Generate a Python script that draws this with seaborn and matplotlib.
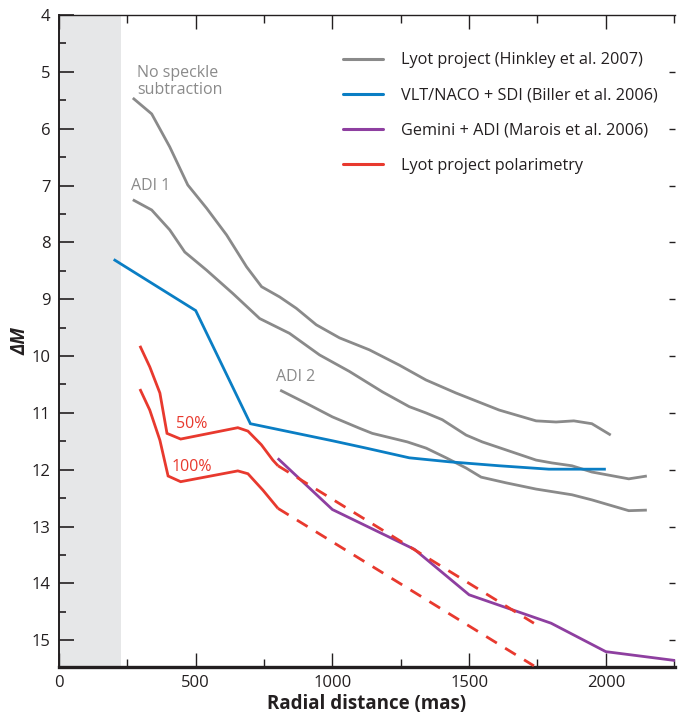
import numpy as np
import pandas as pd
import matplotlib
matplotlib.use("Agg")
import matplotlib.pyplot as plt
from matplotlib.lines import Line2D
import seaborn as sns

# ---------------- data ----------------
nospeckle_x = [270, 339, 405, 471, 540, 613, 686, 741, 807, 868, 941, 1026, 1135, 1245, 1342, 1452, 1610, 1745, 1818, 1883, 1949, 2018]
nospeckle_y = [5.46, 5.74, 6.32, 6.99, 7.40, 7.87, 8.43, 8.78, 8.96, 9.16, 9.45, 9.68, 9.89, 10.16, 10.42, 10.65, 10.95, 11.14, 11.16, 11.14, 11.19, 11.39]

adi1_x = [270, 339, 405, 460, 540, 636, 734, 843, 953, 1062, 1183, 1281, 1342, 1402, 1489, 1548, 1745, 1803, 1876, 1949, 2084, 2150]
adi1_y = [7.25, 7.43, 7.78, 8.17, 8.49, 8.90, 9.34, 9.60, 9.98, 10.27, 10.63, 10.89, 11.00, 11.12, 11.39, 11.51, 11.83, 11.88, 11.93, 12.04, 12.16, 12.11]

adi2_x = [809, 904, 1000, 1099, 1146, 1274, 1343, 1416, 1489, 1544, 1635, 1745, 1876, 1949, 2084, 2150]
adi2_y = [10.60, 10.83, 11.07, 11.27, 11.36, 11.51, 11.62, 11.79, 11.97, 12.13, 12.23, 12.34, 12.44, 12.53, 12.72, 12.71]

naco_x = [200, 500, 700, 880, 1000, 1124, 1281, 1427, 1610, 1792, 2000]
naco_y = [8.30, 9.20, 11.19, 11.37, 11.49, 11.62, 11.79, 11.86, 11.93, 11.99, 11.99]

gemini_x = [800, 1000, 1300, 1500, 1800, 2000, 2260]
gemini_y = [11.80, 12.70, 13.40, 14.20, 14.70, 15.20, 15.36]

pol50_x = [296, 332, 369, 395, 445, 654, 691, 740, 782, 801]
pol50_y = [9.82, 10.19, 10.65, 11.36, 11.46, 11.26, 11.32, 11.56, 11.83, 11.93]
pol50_ext_x = [801, 1737]
pol50_ext_y = [11.93, 14.70]

pol100_x = [296, 332, 369, 399, 445, 654, 691, 746, 801]
pol100_y = [10.58, 10.95, 11.48, 12.11, 12.21, 12.02, 12.07, 12.36, 12.68]
pol100_ext_x = [801, 1737]
pol100_ext_y = [12.68, 15.45]

legend_labels = ["Lyot project (Hinkley et al. 2007)",
                 "VLT/NACO + SDI (Biller et al. 2006)",
                 "Gemini + ADI (Marois et al. 2006)",
                 "Lyot project polarimetry"]

x_ticks = [0, 500, 1000, 1500, 2000]
y_ticks = [4, 5, 6, 7, 8, 9, 10, 11, 12, 13, 14, 15]

GRAY = "#8a8a8a"
BLUE = "#0a7ec4"
PURPLE = "#8e3fa0"
RED = "#e8392e"

# ---------------- figure ----------------
sns.set_style("ticks")
FONT = ["Open Sans", "DejaVu Sans"]
plt.rcParams["font.family"] = FONT

W, H = 678, 716
fig = plt.figure(figsize=(W / 100, H / 100), dpi=100)
ax = fig.add_axes([59 / W, 1 - 667 / H, (675 - 59) / W, (667 - 15) / H])

ax.axvspan(0, 225, color="#e6e7e8", lw=0, zorder=0)

def draw(xs, ys, color, ls="-", lw=2.0):
    df = pd.DataFrame({"x": xs, "y": ys})
    sns.lineplot(data=df, x="x", y="y", sort=False, estimator=None, ax=ax,
                 color=color, linewidth=lw, linestyle=ls, legend=False, zorder=3)

draw(nospeckle_x, nospeckle_y, GRAY)
draw(adi1_x, adi1_y, GRAY)
draw(adi2_x, adi2_y, GRAY)
draw(naco_x, naco_y, BLUE)
draw(gemini_x, gemini_y, PURPLE)
draw(pol50_x, pol50_y, RED)
draw(pol100_x, pol100_y, RED)
for l in ax.lines:
    l.set_solid_capstyle("butt")
    l.set_solid_joinstyle("miter")
draw(pol50_ext_x, pol50_ext_y, RED, ls=(0, (4.5, 3.5)))
draw(pol100_ext_x, pol100_ext_y, RED, ls=(0, (4.5, 3.5)))

ax.set_xlim(0, 2253)
ax.set_ylim(15.47, 4)
ax.set_xticks(x_ticks)
ax.set_xticks([250, 750, 1250, 1750, 2250], minor=True)
ax.set_yticks(y_ticks)
ax.set_yticks(np.arange(4.5, 15.5, 1.0), minor=True)
ax.set_xticklabels([str(t) for t in x_ticks], fontsize=12, color="#231f20")
ax.set_yticklabels([str(t) for t in y_ticks], fontsize=12, color="#231f20")

ax.tick_params(axis="both", which="both", direction="in", color="#231f20",
               top=True, right=False)
ax.tick_params(axis="x", which="major", length=10, width=1.0, pad=6)
ax.tick_params(axis="x", which="minor", length=6, width=1.0)
ax.tick_params(axis="y", which="major", length=11, width=1.2, pad=6)
ax.tick_params(axis="y", which="minor", length=5, width=1.2)

# right-side short ticks
sec = ax.secondary_yaxis("right")
sec.set_yticks([5, 6, 7, 8, 9, 10, 11, 12, 13, 14, 15])
sec.tick_params(direction="in", length=4, width=1.0, color="#231f20", labelright=False)
sec.spines["right"].set_visible(False)

ax.spines["left"].set_linewidth(1.4)
ax.spines["left"].set_color("#231f20")
ax.spines["bottom"].set_linewidth(2.4)
ax.spines["bottom"].set_color("#231f20")
ax.spines["top"].set_linewidth(1.0)
ax.spines["top"].set_color("#231f20")
ax.spines["right"].set_visible(False)

ax.set_xlabel("Radial distance (mas)", fontsize=13.5, fontweight="bold", color="#231f20", labelpad=2)
ax.set_ylabel("ΔM", fontsize=13.5, fontweight="bold", fontstyle="italic", color="#231f20", labelpad=1)

# annotations
ax.text(285, 5.17, "No speckle\nsubtraction", fontsize=11.5, color=GRAY, ha="left", va="center", linespacing=1.1)
ax.text(265, 7.0, "ADI 1", fontsize=11.5, color=GRAY, ha="left", va="center")
ax.text(795, 10.37, "ADI 2", fontsize=11.5, color=GRAY, ha="left", va="center")
ax.text(428, 11.2, "50%", fontsize=11.5, color=RED, ha="left", va="center")
ax.text(413, 11.95, "100%", fontsize=11.5, color=RED, ha="left", va="center")

handles = [Line2D([0], [0], color=c, lw=2.2) for c in [GRAY, BLUE, PURPLE, RED]]
fig.legend(handles, legend_labels, loc="upper left", bbox_to_anchor=(336 / W, 1 - 46 / H),
           frameon=False, fontsize=11.7, handlelength=2.5, handletextpad=1.1,
           labelspacing=1.18, borderaxespad=0, labelcolor="#231f20")

fig.savefig("out.png", dpi=100)
